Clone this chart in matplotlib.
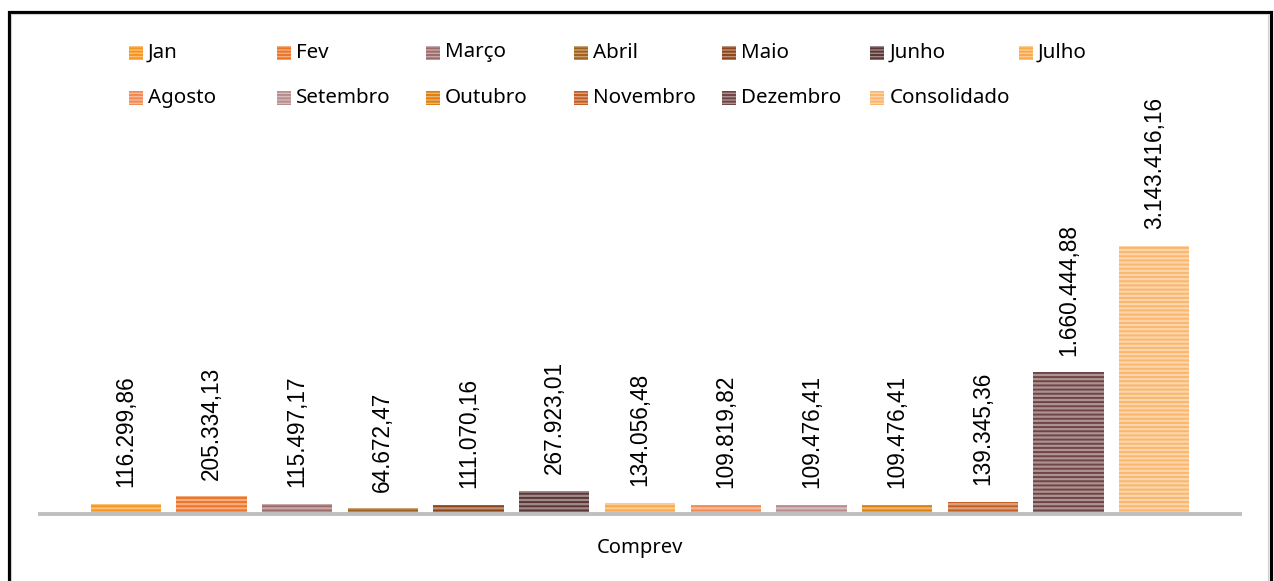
import matplotlib
matplotlib.use("Agg")
import matplotlib.pyplot as plt
from matplotlib.patches import Rectangle
from matplotlib.lines import Line2D
import matplotlib.colors as mcolors

series = ["Jan", "Fev", "Março", "Abril", "Maio", "Junho", "Julho",
          "Agosto", "Setembro", "Outubro", "Novembro", "Dezembro", "Consolidado"]
values = [116299.86, 205334.13, 115497.17, 64672.47, 111070.16, 267923.01, 134056.48,
          109819.82, 109476.41, 109476.41, 139345.36, 1660444.88, 3143416.16]
category = "Comprev"

main_colors = ["#F7941D", "#EC7426", "#9E6B6B", "#A0601A", "#8E4518", "#5A3636", "#F9A94A",
               "#F28A52", "#B88C8C", "#DF7F0E", "#C45E22", "#704444", "#FAB66C"]

def fmt(v):
    s = f"{v:,.2f}"
    return s.replace(",", "X").replace(".", ",").replace("X", ".")

def tint(c, f):
    r, g, b = mcolors.to_rgb(c)
    return (r + (1 - r) * f, g + (1 - g) * f, b + (1 - b) * f)

plt.rcParams['hatch.linewidth'] = 1.4
W, H = 1274, 581
fig = plt.figure(figsize=(W / 100, H / 100), dpi=100)

ax_left, ax_right, ax_bottom_px, ax_top_px = 40, 1240, 514, 20
ax = fig.add_axes([ax_left / W, (H - ax_bottom_px) / H, (ax_right - ax_left) / W,
                   (ax_bottom_px - ax_top_px) / H])
px_per_unit = 85.4 / 1e6
ax.set_ylim(0, (ax_bottom_px - ax_top_px) / px_per_unit)
ax.set_xlim(-1.0, len(series))

xs = list(range(len(series)))
for i, (name, v, c) in enumerate(zip(series, values, main_colors)):
    ax.bar(xs[i], v, width=0.82, color=tint(c, 0.42), edgecolor=c,
           linewidth=0, hatch='----', zorder=2)
    ax.annotate(fmt(v), (xs[i], v), xytext=(0, 12), textcoords='offset points',
                rotation=90, ha='center', va='bottom', fontsize=16.3,
                family=['Liberation Sans', 'DejaVu Sans'], color='black')

ax.axhline(0, color='#BFBFBF', lw=2.8, zorder=3, clip_on=False)
for s in ax.spines.values():
    s.set_visible(False)
ax.set_xticks([])
ax.set_yticks([])

fig.text(640 / W, 1 - 548 / H, category, ha='center', va='center', fontsize=14.5,
         family=['Noto Sans', 'DejaVu Sans'])

# legend (manual layout)
col_x0, col_dx = 129, 148.3
row_y = [52.5, 97.5]
msz = 14
for i, (name, c) in enumerate(zip(series, main_colors)):
    r, col = divmod(i, 7)
    x = col_x0 + col * col_dx
    y = row_y[r]
    rect = Rectangle((x / W, 1 - (y + msz / 2) / H), msz / W, msz / H,
                     transform=fig.transFigure, facecolor=tint(c, 0.42), edgecolor=c,
                     linewidth=0, hatch='-----', clip_on=False)
    fig.add_artist(rect)
    fig.text((x + msz + 5) / W, 1 - y / H, name, ha='left', va='center',
             fontsize=14.8, family=['Noto Sans', 'DejaVu Sans'])

# outer frame
fig.add_artist(Line2D([8.5 / W, 8.5 / W, 1270.5 / W, 1270.5 / W],
                      [0, 1 - 11.5 / H, 1 - 11.5 / H, 0],
                      transform=fig.transFigure, color='black', lw=2.3,
                      solid_joinstyle='miter'))
fig.add_artist(Line2D([11 / W, 11 / W, 1268 / W, 1268 / W],
                      [0, 1 - 14 / H, 1 - 14 / H, 0],
                      transform=fig.transFigure, color='#D0D0D0', lw=0.8))

fig.savefig("out.png", dpi=100)
